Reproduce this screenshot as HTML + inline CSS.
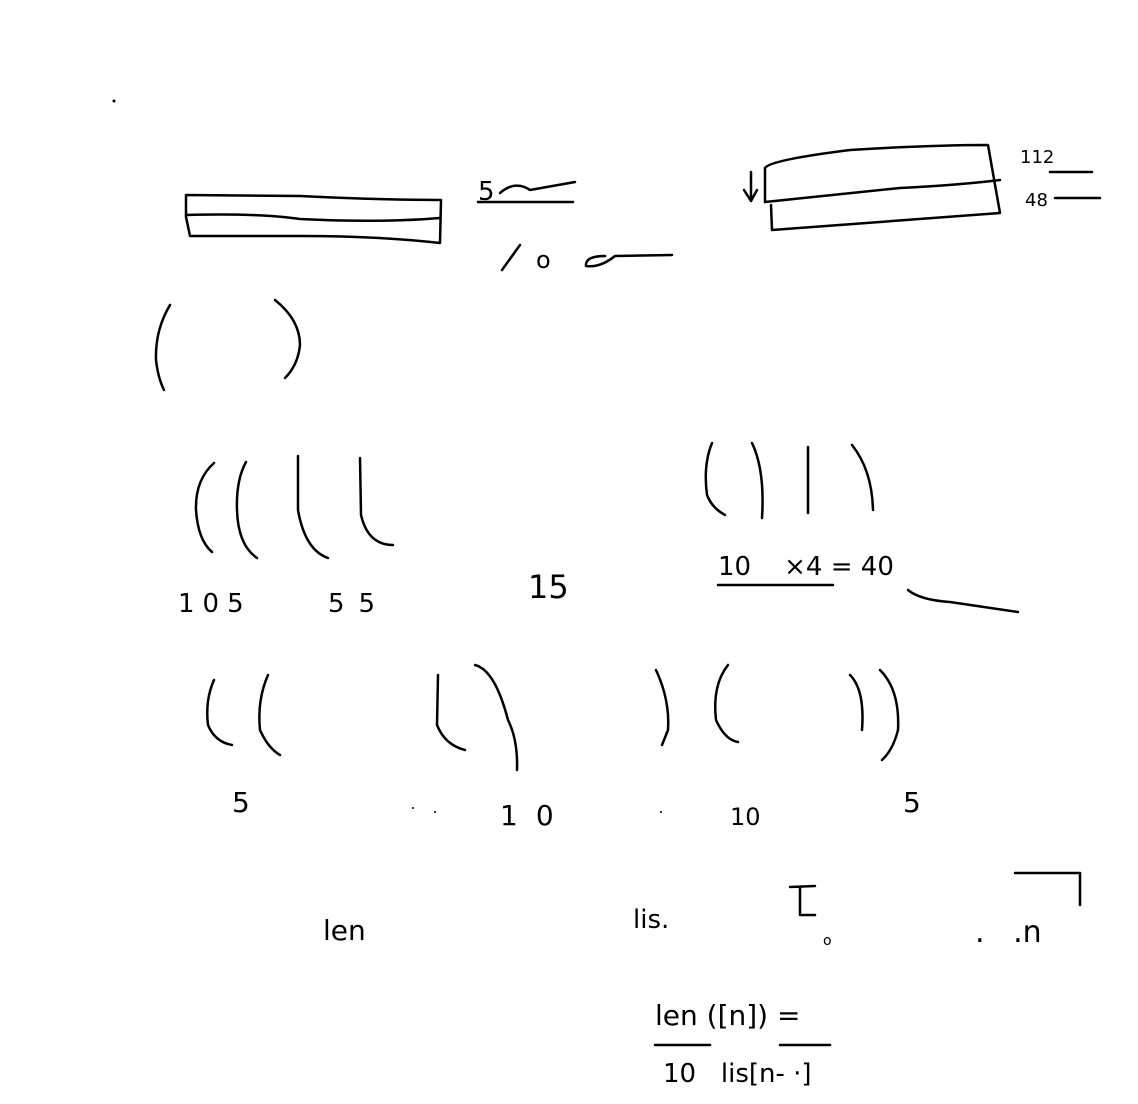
<!DOCTYPE html>
<html><head><meta charset="utf-8"><style>
html,body{margin:0;padding:0;background:#fff;}
svg{display:block;}
path,line,polyline{fill:none;stroke:#000;stroke-width:2.5;stroke-linecap:round;stroke-linejoin:round;}
text{font-family:"Liberation Sans",sans-serif;fill:#000;font-weight:normal;}
.hw{font-family:"Comic Sans MS","DejaVu Sans",sans-serif;}
</style></head><body>
<svg width="1138" height="1104" viewBox="0 0 1138 1104">
<circle cx="114" cy="101" r="1.5" fill="#000"/>

<g>
<path d="M186 195 L300 196 Q380 200 441 200 L440 243 Q380 236 300 236 L190 236 L186 217 Z"/>
<path d="M186 215 Q260 213 300 219 Q380 223 440 218"/>
</g>
<g>
<text x="478" y="200" font-size="26" class="hw">5</text>
<path d="M500 193 Q515 180 530 190 L575 182"/>
<line x1="478" y1="202" x2="573" y2="202"/>
</g>
<g>
<path d="M502 270 L520 245"/>
<text x="536" y="268" font-size="24" class="hw">o</text>
<path d="M605 256 Q585 256 586 266 Q600 268 615 256 L672 255"/>
</g>

<g>
<path d="M765 168 Q770 160 850 150 Q930 145 988 145 L1000 213 L772 230 L771 205"/>
<path d="M765 202 Q830 195 900 188 Q960 185 1000 180"/>
<path d="M765 168 L765 202"/>
<path d="M751 172 L751 200 M744 190 L751 201 L757 190"/>
</g>
<g>
<text x="1020" y="163" font-size="18" class="hw">112</text>
<line x1="1050" y1="172" x2="1092" y2="172"/>
<text x="1025" y="206" font-size="18" class="hw">48</text>
<line x1="1055" y1="198" x2="1100" y2="198"/>
</g>

<g>
<path d="M170 305 Q155 330 156 360 Q158 378 164 390"/>
<path d="M275 300 Q300 320 300 345 Q298 365 285 378"/>
</g>

<g>
<path d="M214 463 Q195 480 196 510 Q198 540 212 552"/>
<path d="M246 462 Q236 480 237 510 Q238 545 257 558"/>
<path d="M298 456 L298 510 Q305 550 328 558"/>
<path d="M360 458 L361 515 Q368 545 393 545"/>
</g>
<text x="178" y="612" font-size="26" class="hw" letter-spacing="8">105</text>
<text x="328" y="612" font-size="26" class="hw" letter-spacing="14">55</text>
<text x="528" y="598" font-size="32" class="hw">15</text>

<g>
<path d="M712 443 Q703 465 707 495 Q712 508 725 515"/>
<path d="M752 443 Q765 470 762 518"/>
<path d="M808 447 L808 513"/>
<path d="M852 445 Q872 470 873 510"/>
</g>
<text x="718" y="575" font-size="26" class="hw">10&#160;&#160;&#160;&#160;×4 = 40</text>
<line x1="718" y1="585" x2="833" y2="585"/>
<path d="M908 590 Q920 600 950 602 L1018 612"/>

<g>
<path d="M214 680 Q205 700 208 725 Q215 742 232 745"/>
<path d="M268 675 Q257 700 260 730 Q268 748 280 755"/>
<path d="M438 675 L437 725 Q445 745 465 750"/>
<path d="M475 665 Q495 670 508 720 Q518 740 517 770"/>
<path d="M656 670 Q670 700 668 730 L662 745"/>
<path d="M728 665 Q712 685 716 720 Q725 740 738 742"/>
<path d="M850 675 Q865 690 862 730"/>
<path d="M880 670 Q900 690 898 730 Q893 750 882 760"/>
</g>
<text x="232" y="812" font-size="28" class="hw">5</text>
<text x="500" y="825" font-size="28" class="hw" letter-spacing="18">10</text>
<text x="730" y="825" font-size="24" class="hw">10</text>
<text x="903" y="812" font-size="28" class="hw">5</text>
<circle cx="413" cy="808" r="1" fill="#000"/><circle cx="435" cy="812" r="1" fill="#000"/><circle cx="661" cy="812" r="1" fill="#000"/>

<text x="323" y="940" font-size="28" class="hw">len</text>
<text x="633" y="928" font-size="26" class="hw">lis.</text>
<path d="M790 887 L815 886 M800 888 L800 915 L815 915"/>
<text x="823" y="945" font-size="14" class="hw">o</text>
<text x="975" y="942" font-size="30" class="hw">.&#160;&#160; .n</text>
<polyline points="1015,873 1080,873 1080,905"/>

<text x="655" y="1025" font-size="28" class="hw">len ([n]) =</text>
<line x1="655" y1="1045" x2="710" y2="1045"/>
<line x1="780" y1="1045" x2="830" y2="1045"/>
<text x="663" y="1082" font-size="26" class="hw">10&#160;&#160; lis[n- ·]</text>
</svg>
</body></html>
